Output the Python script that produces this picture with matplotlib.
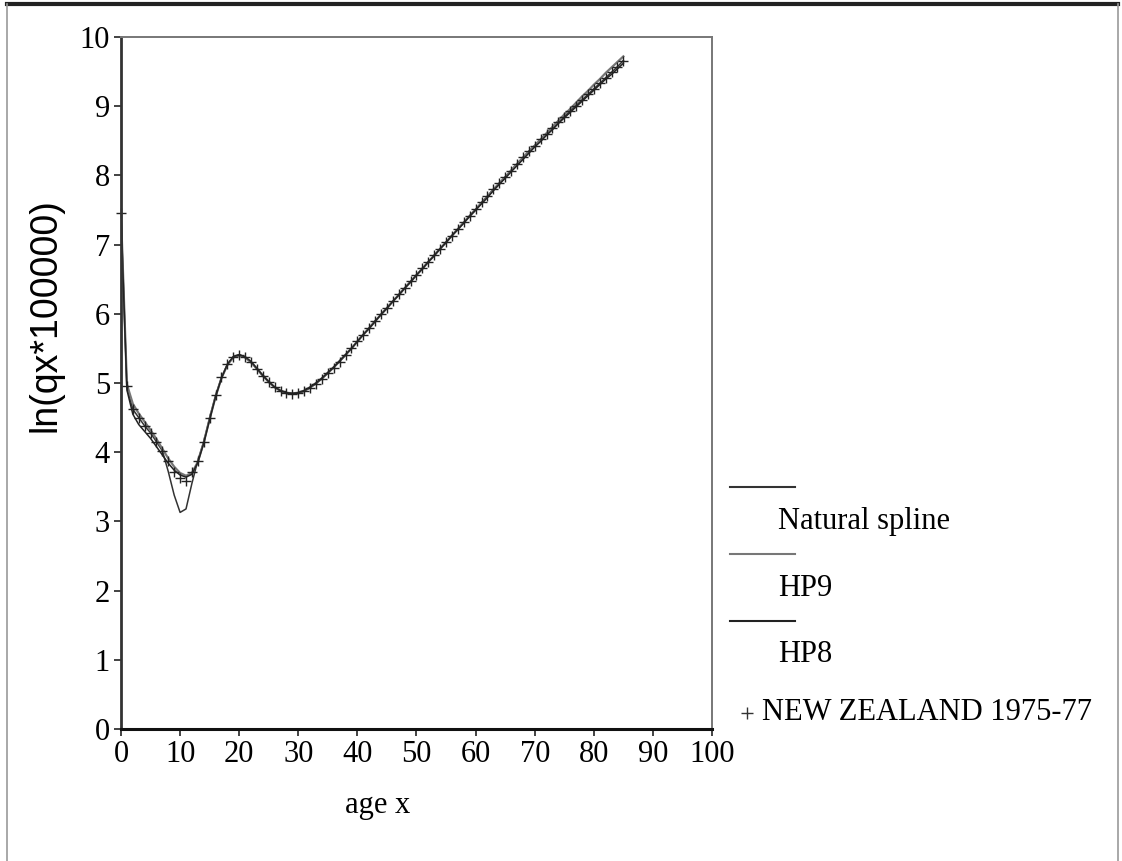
import matplotlib.pyplot as plt
import numpy as np
from matplotlib.lines import Line2D

plt.rcParams['font.family'] = ['Liberation Serif', 'DejaVu Serif']

# ln(qx*100000) by single year of age, New Zealand 1975-77
ages = np.arange(0, 86)
observed = [7.46, 4.95, 4.62, 4.50, 4.38, 4.28, 4.15, 4.02, 3.88, 3.72,
            3.62, 3.58, 3.72, 3.88, 4.15, 4.50, 4.82, 5.08, 5.27, 5.38,
            5.41, 5.37, 5.30, 5.20, 5.10, 5.01, 4.94, 4.88, 4.85, 4.84,
            4.85, 4.88, 4.93, 4.99, 5.06, 5.14, 5.22, 5.31, 5.40, 5.50,
            5.60, 5.70, 5.80, 5.90, 5.99, 6.09, 6.18, 6.28, 6.37, 6.47,
            6.56, 6.66, 6.75, 6.85, 6.94, 7.04, 7.13, 7.23, 7.32, 7.42,
            7.51, 7.61, 7.70, 7.80, 7.89, 7.98, 8.07, 8.17, 8.26, 8.35,
            8.43, 8.52, 8.60, 8.68, 8.77, 8.85, 8.93, 9.01, 9.09, 9.17,
            9.25, 9.33, 9.41, 9.49, 9.57, 9.66]

natural_spline = [7.46, 4.95, 4.62, 4.50, 4.38, 4.28, 4.15, 4.02, 3.72, 3.38,
                  3.13, 3.18, 3.55, 3.88, 4.15, 4.50, 4.82, 5.08, 5.27, 5.38,
                  5.41, 5.37, 5.30, 5.20, 5.10, 5.01, 4.94, 4.88, 4.85, 4.84,
                  4.85, 4.88, 4.93, 4.99, 5.06, 5.14, 5.22, 5.31, 5.40, 5.50,
                  5.60, 5.70, 5.80, 5.90, 5.99, 6.09, 6.18, 6.28, 6.37, 6.47,
                  6.56, 6.66, 6.75, 6.85, 6.94, 7.04, 7.13, 7.23, 7.32, 7.42,
                  7.51, 7.61, 7.70, 7.80, 7.89, 7.98, 8.07, 8.17, 8.26, 8.35,
                  8.43, 8.52, 8.60, 8.68, 8.77, 8.85, 8.93, 9.01, 9.09, 9.17,
                  9.25, 9.33, 9.41, 9.49, 9.57, 9.66]

hp9 = [7.44, 4.98, 4.70, 4.56, 4.44, 4.32, 4.19, 4.05, 3.91, 3.79,
       3.70, 3.66, 3.70, 3.86, 4.14, 4.48, 4.80, 5.07, 5.26, 5.37,
       5.40, 5.37, 5.30, 5.21, 5.11, 5.02, 4.94, 4.89, 4.86, 4.85,
       4.86, 4.89, 4.94, 5.00, 5.07, 5.15, 5.23, 5.32, 5.41, 5.50,
       5.60, 5.70, 5.79, 5.89, 5.99, 6.08, 6.18, 6.27, 6.37, 6.46,
       6.56, 6.65, 6.75, 6.84, 6.94, 7.03, 7.13, 7.22, 7.32, 7.41,
       7.50, 7.60, 7.69, 7.79, 7.88, 7.97, 8.07, 8.16, 8.25, 8.34,
       8.43, 8.52, 8.61, 8.70, 8.79, 8.88, 8.96, 9.05, 9.14, 9.22,
       9.31, 9.39, 9.48, 9.56, 9.64, 9.72]

hp8 = [7.40, 4.90, 4.55, 4.40, 4.30, 4.20, 4.08, 3.96, 3.84, 3.74,
       3.67, 3.64, 3.68, 3.85, 4.13, 4.47, 4.80, 5.07, 5.27, 5.38,
       5.41, 5.38, 5.31, 5.21, 5.11, 5.02, 4.94, 4.89, 4.86, 4.85,
       4.86, 4.89, 4.94, 5.00, 5.07, 5.15, 5.23, 5.32, 5.41, 5.50,
       5.60, 5.70, 5.79, 5.89, 5.99, 6.08, 6.18, 6.27, 6.37, 6.46,
       6.56, 6.65, 6.75, 6.84, 6.94, 7.03, 7.13, 7.22, 7.31, 7.41,
       7.50, 7.59, 7.68, 7.78, 7.87, 7.96, 8.05, 8.14, 8.23, 8.32,
       8.41, 8.49, 8.58, 8.66, 8.75, 8.83, 8.91, 8.99, 9.07, 9.15,
       9.23, 9.31, 9.39, 9.46, 9.54, 9.62]

legend_labels = ['Natural spline', 'HP9', 'HP8', 'NEW ZEALAND 1975-77']
line_colors = ['#333333', '#777777', '#222222']

W, H = 1122, 861
fig = plt.figure(figsize=(W / 100, H / 100), dpi=100)


def fx(px):
    return px / W


def fy(py):
    return 1 - py / H


ax = fig.add_axes([fx(121), fy(729), fx(712) - fx(121), fy(37) - fy(729)])

ax.plot(ages, natural_spline, color=line_colors[0], lw=1.1)
ax.plot(ages, hp9, color=line_colors[1], lw=1.6)
ax.plot(ages, hp8, color=line_colors[2], lw=1.1)
ax.plot(ages, observed, ls='none', marker='+', ms=6.5, mew=1.0, color='#222222',
        clip_on=False)

ax.set_xlim(0, 100)
ax.set_ylim(0, 10)
ax.set_xticks(np.arange(0, 101, 10))
ax.set_yticks(np.arange(0, 11, 1))
ax.tick_params(labelsize=22, length=5, width=1.2, pad=3, color='#222222')

ax.spines['left'].set_linewidth(2.0)
ax.spines['bottom'].set_linewidth(2.2)
ax.spines['left'].set_color('#333333')
ax.spines['bottom'].set_color('#111111')
for s in ('top', 'right'):
    ax.spines[s].set_linewidth(1.4)
    ax.spines[s].set_color('#777777')

fig.text(fx(46), fy(315), 'ln(qx*100000)', rotation=90, ha='center', va='center',
         fontsize=27, family=['Liberation Sans', 'DejaVu Sans'])
fig.text(fx(378), fy(805), 'age x', ha='center', va='center', fontsize=22)

# legend: line sample above, label below
leg_rows = [487, 554, 621]
for row, color, label in zip(leg_rows, line_colors, legend_labels[:3]):
    fig.add_artist(Line2D([fx(730), fx(795)], [fy(row), fy(row)],
                          color=color, lw=1.5))
    fig.text(fx(778), fy(row + 34), label, ha='left', va='center', fontsize=22)
fig.add_artist(Line2D([fx(747)], [fy(713)], marker='+', ms=9, mew=1.0,
                      color='#333333', ls='none'))
fig.text(fx(762), fy(713), legend_labels[3], ha='left', va='center', fontsize=22)

# page frame
fig.add_artist(Line2D([fx(7), fx(1118)], [fy(4), fy(4)], color='#222222', lw=3))
fig.add_artist(Line2D([fx(7), fx(7)], [fy(4), 0], color='#999999', lw=1.2))
fig.add_artist(Line2D([fx(1118), fx(1118)], [fy(4), 0], color='#999999', lw=1.2))

fig.savefig('out.png', dpi=100)
